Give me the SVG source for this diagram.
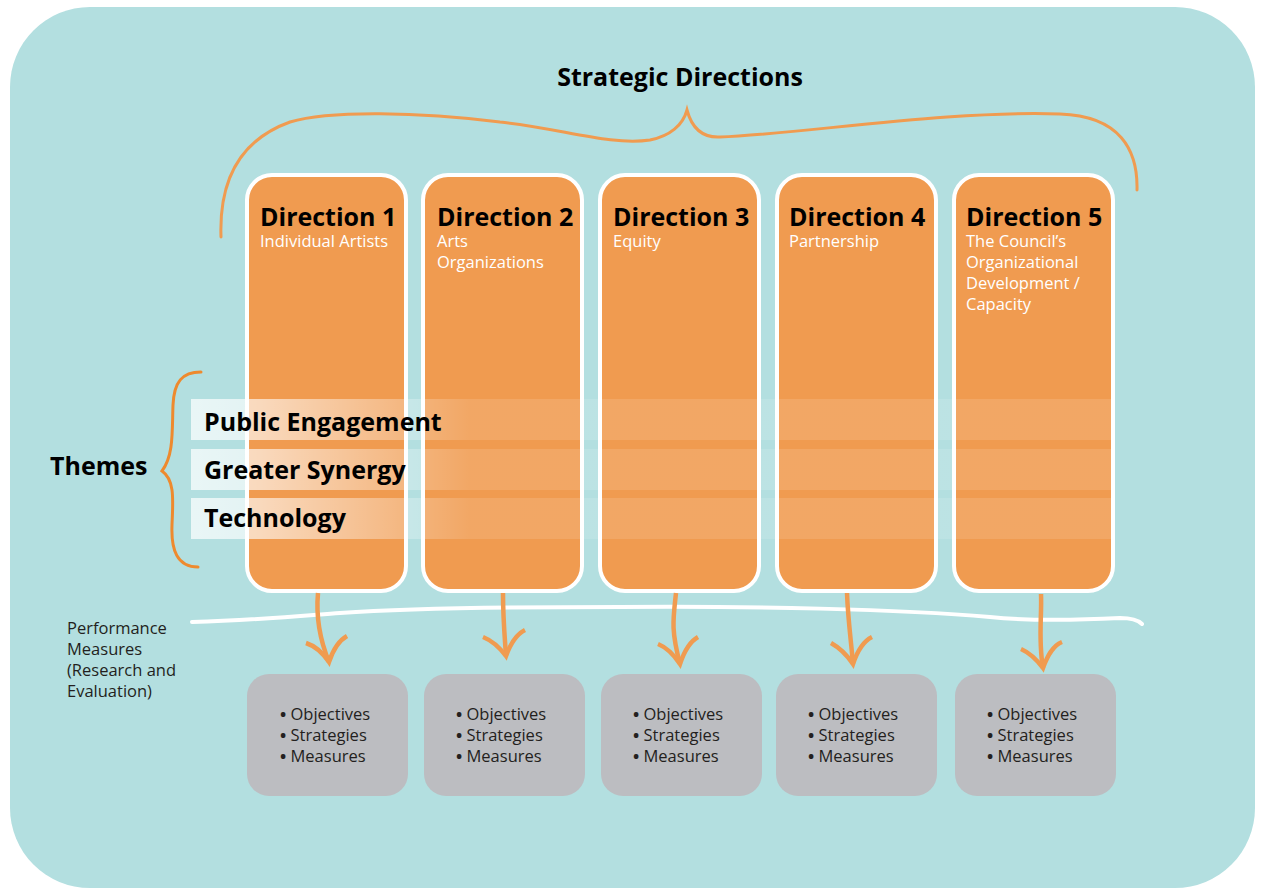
<svg xmlns="http://www.w3.org/2000/svg" width="1261" height="890" viewBox="0 0 1261 890">
  <style>
    .bg { fill: #b3dfe0; }
    .dir { fill: #f09b50; stroke: #ffffff; stroke-width: 4; }
    .res { fill: #bcbdc1; }
    .brace { fill: none; stroke: #f09b50; stroke-width: 3; stroke-linecap: round; }
    .brace2 { fill: none; stroke: #ee8a2e; stroke-width: 3; stroke-linecap: round; }
    .arrow { fill: none; stroke: #f09b50; stroke-width: 4.5; stroke-linecap: butt; stroke-linejoin: miter; }
    .divider { fill: none; stroke: #ffffff; stroke-width: 4; stroke-linecap: round; }
    .band { fill: url(#bandFade); }
    .h1 { font-family: "Open Sans", "Noto Sans", sans-serif; font-weight: 700; fill: #000000; font-size: 25px; }
    .sub { font-family: "Open Sans", "Noto Sans", sans-serif; font-size: 16.5px; fill: #ffffff; }
    .body { font-family: "Open Sans", "Noto Sans", sans-serif; font-size: 16.5px; fill: #231f20; }
    .dot { font-weight: 700; }
  </style>
  <defs>
    <linearGradient id="bandFade" gradientUnits="userSpaceOnUse" x1="191" y1="0" x2="470" y2="0">
      <stop offset="0" stop-color="#ffffff" stop-opacity="0.72"/>
      <stop offset="0.25" stop-color="#ffffff" stop-opacity="0.62"/>
      <stop offset="1" stop-color="#ffffff" stop-opacity="0.12"/>
    </linearGradient>
  </defs>

  <!-- panel -->
  <rect class="bg" x="10" y="7" width="1245" height="881" rx="80" ry="80"/>

  <!-- heading and top brace -->
  <text class="h1" x="680" y="86" text-anchor="middle">Strategic Directions</text>
  <path class="brace" d="M221,237 C219,180 240,140 290,122 C330,110 420,112 500,122 C560,128 610,146 650,140 C670,136 683,125 687,110 C691,125 700,138 720,137 C800,134 950,110 1060,114 C1120,116 1138,150 1137,190"/>

  <!-- direction columns -->
  <g id="direction-1">
    <rect class="dir" x="247" y="175" width="159" height="416" rx="25" ry="25"/>
    <text class="h1" x="260" y="226">Direction 1</text>
    <text class="sub" x="260" y="247">Individual Artists</text>
  </g>
  <g id="direction-2">
    <rect class="dir" x="423" y="175" width="159" height="416" rx="25" ry="25"/>
    <text class="h1" x="437" y="226">Direction 2</text>
    <text class="sub" x="437" y="247">Arts</text>
    <text class="sub" x="437" y="268">Organizations</text>
  </g>
  <g id="direction-3">
    <rect class="dir" x="600" y="175" width="159" height="416" rx="25" ry="25"/>
    <text class="h1" x="613" y="226">Direction 3</text>
    <text class="sub" x="613" y="247">Equity</text>
  </g>
  <g id="direction-4">
    <rect class="dir" x="777" y="175" width="159" height="416" rx="25" ry="25"/>
    <text class="h1" x="789" y="226">Direction 4</text>
    <text class="sub" x="789" y="247">Partnership</text>
  </g>
  <g id="direction-5">
    <rect class="dir" x="954" y="175" width="159" height="416" rx="25" ry="25"/>
    <text class="h1" x="966" y="226">Direction 5</text>
    <text class="sub" x="966" y="247">The Council’s</text>
    <text class="sub" x="966" y="268">Organizational</text>
    <text class="sub" x="966" y="289">Development /</text>
    <text class="sub" x="966" y="310">Capacity</text>
  </g>

  <!-- theme bands across all columns -->
  <g id="themes">
    <rect class="band" x="191" y="399" width="921" height="41"/>
    <rect class="band" x="191" y="449" width="921" height="41"/>
    <rect class="band" x="191" y="498" width="921" height="41"/>
    <text class="h1" x="204" y="431">Public Engagement</text>
    <text class="h1" x="204" y="479">Greater Synergy</text>
    <text class="h1" x="204" y="527">Technology</text>
    <text class="h1" x="50" y="475">Themes</text>
    <path class="brace2" d="M201,372 C182,372 174,382 173,405 C172,430 174,455 162,471 C175,480 173,500 172,525 C171,550 177,567 198,567"/>
  </g>

  <!-- performance measures divider -->
  <g id="performance-label">
    <text class="body" x="67" y="634">Performance</text>
    <text class="body" x="67" y="655">Measures</text>
    <text class="body" x="67" y="676">(Research and</text>
    <text class="body" x="67" y="697">Evaluation)</text>
  </g>

  <g id="connectors">
    <path class="divider" d="M192,622 C260,620 300,616 340,613 C400,609 500,607 620,607 C750,606 900,609 990,617 C1030,621 1080,620 1120,618 C1130,618 1138,620 1142,624"/>
    <path class="arrow" d="M318,593 C316,615 320,640 329,662"/>
    <path class="arrow" d="M306,643 C315,646 323,653 329,662 C333,650 338,641 347,636"/>
    <path class="arrow" d="M503,593 C503,620 505,640 506,656"/>
    <path class="arrow" d="M483,637 C493,641 500,648 506,656 C510,645 515,635 525,630"/>
    <path class="arrow" d="M676,593 C673,620 671,630 680,664"/>
    <path class="arrow" d="M658,644 C668,648 674,655 680,664 C684,652 689,642 698,637"/>
    <path class="arrow" d="M847,593 C848,620 851,640 853,664"/>
    <path class="arrow" d="M831,643 C840,648 847,655 853,664 C857,652 862,642 872,637"/>
    <path class="arrow" d="M1041,594 C1042,615 1038,640 1043,668"/>
    <path class="arrow" d="M1021,649 C1030,653 1037,660 1043,668 C1047,657 1052,646 1062,642"/>
  </g>

  <!-- result boxes -->
  <g id="results-1">
    <rect class="res" x="247" y="674" width="161" height="122" rx="22" ry="22"/>
    <text class="body" x="280" y="720"><tspan class="dot">•</tspan> Objectives</text>
    <text class="body" x="280" y="741"><tspan class="dot">•</tspan> Strategies</text>
    <text class="body" x="280" y="762"><tspan class="dot">•</tspan> Measures</text>
  </g>
  <g id="results-2">
    <rect class="res" x="424" y="674" width="161" height="122" rx="22" ry="22"/>
    <text class="body" x="456" y="720"><tspan class="dot">•</tspan> Objectives</text>
    <text class="body" x="456" y="741"><tspan class="dot">•</tspan> Strategies</text>
    <text class="body" x="456" y="762"><tspan class="dot">•</tspan> Measures</text>
  </g>
  <g id="results-3">
    <rect class="res" x="601" y="674" width="161" height="122" rx="22" ry="22"/>
    <text class="body" x="633" y="720"><tspan class="dot">•</tspan> Objectives</text>
    <text class="body" x="633" y="741"><tspan class="dot">•</tspan> Strategies</text>
    <text class="body" x="633" y="762"><tspan class="dot">•</tspan> Measures</text>
  </g>
  <g id="results-4">
    <rect class="res" x="776" y="674" width="161" height="122" rx="22" ry="22"/>
    <text class="body" x="808" y="720"><tspan class="dot">•</tspan> Objectives</text>
    <text class="body" x="808" y="741"><tspan class="dot">•</tspan> Strategies</text>
    <text class="body" x="808" y="762"><tspan class="dot">•</tspan> Measures</text>
  </g>
  <g id="results-5">
    <rect class="res" x="955" y="674" width="161" height="122" rx="22" ry="22"/>
    <text class="body" x="987" y="720"><tspan class="dot">•</tspan> Objectives</text>
    <text class="body" x="987" y="741"><tspan class="dot">•</tspan> Strategies</text>
    <text class="body" x="987" y="762"><tspan class="dot">•</tspan> Measures</text>
  </g>
</svg>
